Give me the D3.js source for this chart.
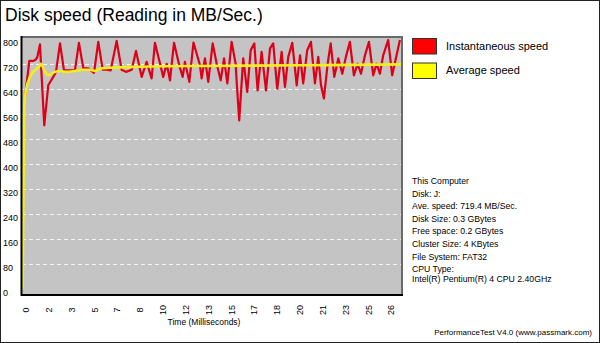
<!DOCTYPE html>
<html><head><meta charset="utf-8">
<script src="https://cdn.jsdelivr.net/npm/d3@7"></script>
<style>
html,body{margin:0;padding:0;background:#fff;}
svg{display:block;font-family:Arial,"Liberation Sans",sans-serif;}
</style></head>
<body>
<svg id="c" width="600" height="343"></svg>
<script>
// ---- data ----
const titleText = "Disk speed (Reading in MB/Sec.)";
const yTickValues = [0, 80, 160, 240, 320, 400, 480, 560, 640, 720, 800];
const xTickLabels = ["0","2","3","5","7","8","10","12","13","15","17","18","20","21","23","25","26"];
const xTickStep = 1.653; // ms between labelled positions
// instantaneous speed: time (ms), MB/s
const instTime = [0.22,0.53,0.82,1.01,1.11,1.30,1.61,1.90,2.26,2.46,2.75,3.04,3.35,3.83,4.12,4.44,4.80,5.21,5.52,5.84,6.13,6.42,6.85,7.21,7.53,7.94,8.25,8.66,9.02,9.38,9.62,9.99,10.22,10.47,10.71,11.00,11.38,11.63,11.79,12.11,12.41,12.88,13.00,13.24,13.48,13.80,14.09,14.38,14.62,14.86,15.17,15.46,15.53,15.72,16.01,16.30,16.55,16.81,17.05,17.34,17.66,17.95,18.18,18.47,18.79,19.03,19.27,19.56,19.88,20.12,20.35,20.64,20.91,21.20,21.44,21.64,21.85,22.12,22.34,22.60,22.89,23.18,23.44,23.73,24.02,24.29,24.53,24.82,25.11,25.42,25.66,25.90,26.14,26.50,26.79,27.35];
const instSpeed = [615,729,729,734,742,782,523,651,678,694,785,699,699,699,787,705,705,691,790,701,701,699,793,701,694,701,761,678,726,673,787,720,678,720,667,787,715,678,726,662,788,715,673,737,662,785,720,667,737,657,790,720,667,539,737,630,763,785,635,758,635,769,785,640,758,646,742,787,651,747,657,763,790,657,742,651,609,720,785,678,737,688,742,790,683,720,688,747,790,683,720,688,747,796,683,796];
// average speed
const avgTime = [0.04,0.15,0.22,0.34,0.58,0.82,1.06,1.30,1.35,1.66,1.90,2.15,2.39,2.75,3.23,3.83,4.44,4.92,5.28,5.64,6.37,8.05,10.47,12.88,20.12,27.5];
const avgSpeed = [0,560,614,646,678,694,705,715,720,694,683,688,694,697,694,697,701,701,697,705,707,710,712,713,715,718];
const legendLabels = ["Instantaneous speed","Average speed"];
const legendColors = ["#ff0000","#ffff00"];
const infoLines = ["This Computer","Disk: J:","Ave. speed: 719.4 MB/Sec.","Disk Size: 0.3 GBytes","Free space: 0.2 GBytes","Cluster Size: 4 KBytes","File System: FAT32","CPU Type:","Intel(R) Pentium(R) 4 CPU 2.40GHz"];
const axisTitle = "Time (Milliseconds)";
const footer = "PerformanceTest V4.0 (www.passmark.com)";

// ---- drawing ----
const svg = d3.select("#c");
const P = {l:22, r:402, t:37, b:295};
const x = d3.scaleLinear().domain([0, 27.5]).range([P.l, P.r]);
const y = d3.scaleLinear().domain([-20, 800]).range([P.b, 38.75]);

svg.append("rect").attr("x",0.5).attr("y",0.5).attr("width",599).attr("height",342)
  .attr("fill","#fff").attr("stroke","#222");

svg.append("text").attr("x",5).attr("y",21).attr("font-size",17.5).attr("fill","#000").text(titleText);

// plot background
svg.append("rect").attr("x",P.l).attr("y",P.t).attr("width",P.r-P.l).attr("height",P.b-P.t).attr("fill","#c4c4c4");

// gridlines
svg.append("g").selectAll("line").data(yTickValues.filter(v=>v>0 && v<800)).join("line")
  .attr("x1",P.l).attr("x2",P.r).attr("y1",d=>Math.round(y(d))+0.5).attr("y2",d=>Math.round(y(d))+0.5)
  .attr("stroke","#f4f4f4").attr("stroke-width",1).attr("stroke-dasharray","4,3");

// y labels
svg.append("g").selectAll("text").data(yTickValues).join("text")
  .attr("x",3).attr("y",d=>y(d)+4.5).attr("dy","0.35em").attr("font-size",9).attr("fill","#000").text(d=>d);

// lines
svg.append("clipPath").attr("id","pc").append("rect")
  .attr("x",P.l).attr("y",P.t).attr("width",P.r-P.l).attr("height",P.b-P.t);
const line = d3.line().x(d=>x(d[0])).y(d=>y(d[1]));
svg.append("path").attr("clip-path","url(#pc)")
  .attr("d", line(instTime.map((t,i)=>[t, instSpeed[i]])))
  .attr("fill","none").attr("stroke","#dc0018").attr("stroke-width",2.2).attr("stroke-linejoin","round");
svg.append("path").attr("clip-path","url(#pc)")
  .attr("d", d3.line().curve(d3.curveMonotoneX).x(d=>x(d[0])).y(d=>y(d[1]))(avgTime.map((t,i)=>[t, avgSpeed[i]])))
  .attr("fill","none").attr("stroke","#f4ee1c").attr("stroke-width",2.6);

// plot borders
svg.append("line").attr("x1",P.l-1).attr("x2",P.r+1).attr("y1",P.t).attr("y2",P.t).attr("stroke","#6a6a6a").attr("stroke-width",2);
svg.append("line").attr("x1",P.r).attr("x2",P.r).attr("y1",P.t-1).attr("y2",P.b+1).attr("stroke","#6a6a6a").attr("stroke-width",2);
svg.append("line").attr("x1",P.l-0.5).attr("x2",P.l-0.5).attr("y1",P.t-1).attr("y2",P.b+1).attr("stroke","#000").attr("stroke-width",2);
svg.append("line").attr("x1",P.l-1).attr("x2",P.r+1).attr("y1",P.b).attr("y2",P.b).attr("stroke","#000").attr("stroke-width",2);

// x labels
svg.append("g").selectAll("text").data(xTickLabels).join("text")
  .attr("transform",(d,i)=>`translate(${x(i*xTickStep)+4+3},310) rotate(-90)`)
  .attr("text-anchor","middle").attr("font-size",9).attr("fill","#000").text(d=>d);

svg.append("text").attr("x",204).attr("y",325).attr("text-anchor","middle").attr("font-size",8.5).attr("fill","#000").text(axisTitle);

// legend
const lg = svg.append("g").selectAll("g").data(legendLabels).join("g")
  .attr("transform",(d,i)=>`translate(412,${38+i*24.5})`);
lg.append("rect").attr("x",0.5).attr("y",0.5).attr("width",24).attr("height",15.5)
  .attr("fill",(d,i)=>legendColors[i]).attr("stroke","#333");
lg.append("text").attr("x",34).attr("y",8).attr("dy","0.35em").attr("font-size",11).attr("fill","#000").text(d=>d);

// info
svg.append("g").selectAll("text").data(infoLines).join("text")
  .attr("x",412).attr("y",(d,i)=> i<8 ? 181+i*12.6 : 279).attr("dy","0.35em")
  .attr("font-size",8.7).attr("fill","#000").text(d=>d);

svg.append("text").attr("x",592).attr("y",335).attr("text-anchor","end").attr("font-size",8).attr("fill","#000").text(footer);
</script>
</body></html>
